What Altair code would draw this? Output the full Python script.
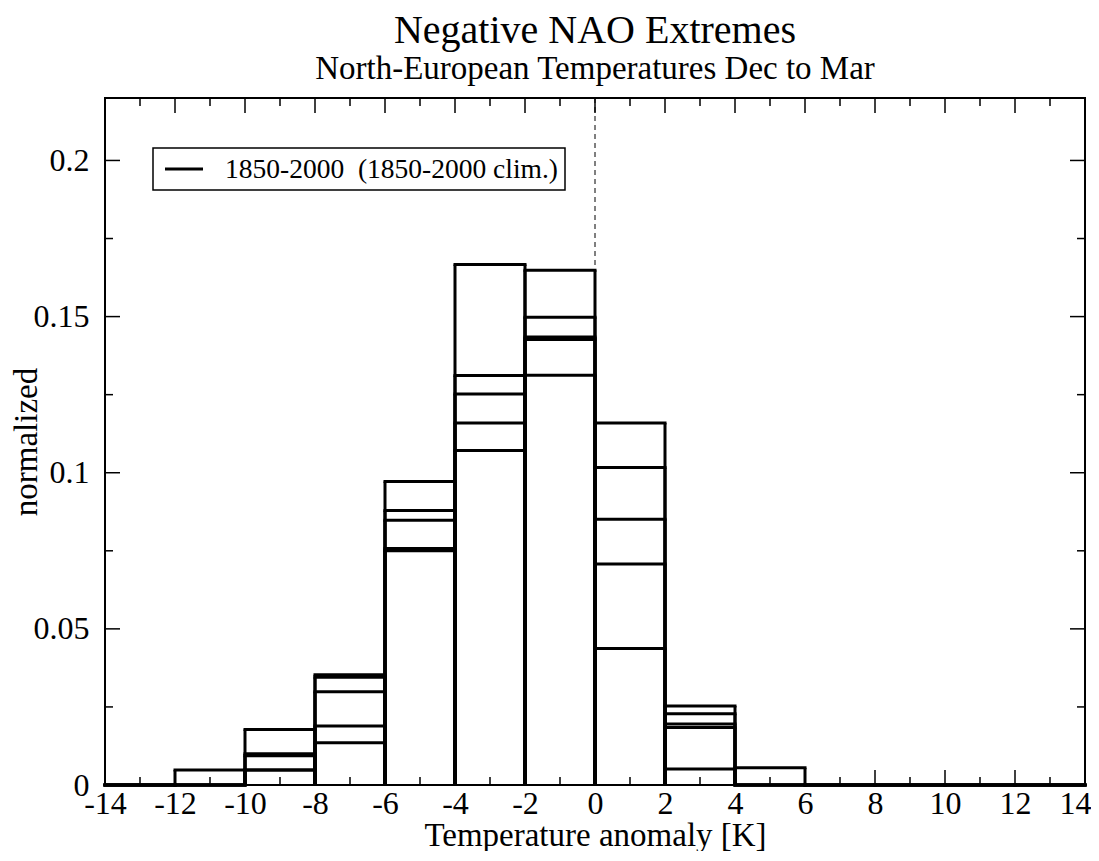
import altair as alt
import pandas as pd

# ---- data ----
bin_lo = [-14, -12, -10, -8, -6, -4, -2, 0, 2, 4, 6, 8, 10, 12]
bin_width = 2
series_a = [0, 0.0048, 0.0178, 0.0353, 0.0972, 0.1667, 0.1648, 0.1159, 0.0253, 0.0055, 0, 0, 0, 0]
series_b = [0, 0, 0.0100, 0.0345, 0.0879, 0.1311, 0.1498, 0.1017, 0.0228, 0, 0, 0, 0, 0]
series_c = [0, 0, 0.0094, 0.0299, 0.0848, 0.1252, 0.1435, 0.0851, 0.0195, 0, 0, 0, 0, 0]
series_d = [0, 0, 0.0048, 0.0189, 0.0757, 0.1159, 0.1427, 0.0708, 0.0184, 0, 0, 0, 0, 0]
series_e = [0, 0, 0.0048, 0.0135, 0.0750, 0.1071, 0.1312, 0.0437, 0.0051, 0, 0, 0, 0, 0]
series_names = ["s1", "s2", "s3", "s4", "s5"]
legend_label = ["1850-2000\u00a0 (1850-2000 clim.)"]

x_major = [-14, -12, -10, -8, -6, -4, -2, 0, 2, 4, 6, 8, 10, 12, 14]
x_minor = [-13, -11, -9, -7, -5, -3, -1, 1, 3, 5, 7, 9, 11, 13]
y_major = [0, 0.05, 0.1, 0.15, 0.2]
y_minor = [0.025, 0.075, 0.125, 0.175]
zero_line = [0]

title_text = "Negative NAO Extremes"
subtitle_text = "North-European Temperatures Dec to Mar"
x_title = "Temperature anomaly [K]"
y_title = "normalized"

# ---- tables ----
rows = []
for name, vals in zip(series_names, [series_a, series_b, series_c, series_d, series_e]):
    for lo, v in zip(bin_lo, vals):
        rows.append({"series": name, "lo": lo, "hi": lo + bin_width, "v": v})
hist = pd.DataFrame(rows)

W, H = 980, 687
FONT = "Liberation Serif"

xs = alt.Scale(domain=[-14, 14], nice=False, zero=False)
ys = alt.Scale(domain=[0, 0.22], nice=False, zero=True)

x_axis = alt.Axis(values=x_major, labelExpr="'' + datum.value", ticks=False, domain=False,
                  grid=False, labelFont=FONT, labelFontSize=32, labelColor="black",
                  labelPadding=3, title=x_title, titleFont=FONT, titleFontSize=33,
                  titleFontWeight="normal", titleColor="black",
                  titleX=W / 2, titleY=60, titleBaseline="alphabetic", titleAnchor="middle",
                  labelAlign={"condition": {"test": "datum.value == 14", "value": "right"}, "value": "center"},
                  labelOffset={"condition": {"test": "datum.value == 14", "value": 6}, "value": 0},
                  labelFlush=False, labelOverlap=False)
y_axis = alt.Axis(values=y_major, labelExpr="'' + datum.value", ticks=False, domain=False,
                  grid=False, labelFont=FONT, labelFontSize=32, labelColor="black",
                  labelPadding=16, title=y_title, titleFont=FONT, titleFontSize=33,
                  titleFontWeight="normal", titleColor="black",
                  titleX=-79, titleY=H / 2, titleBaseline="middle", titleAnchor="middle",
                  labelFlush=False, labelOverlap=False)

base = alt.Chart(hist)

dash = alt.Chart(pd.DataFrame({"z": zero_line})).mark_rule(
    color="black", strokeWidth=1, strokeDash=[5, 4]
).encode(x=alt.X("z:Q", scale=xs, axis=x_axis), y=alt.value(0), y2=alt.value(H))

tops = base.mark_rule(color="black", strokeWidth=3, strokeCap="square").encode(
    x=alt.X("lo:Q", scale=xs, axis=x_axis), x2="hi:Q",
    y=alt.Y("v:Q", scale=ys, axis=y_axis),
)
left_edges = base.mark_rule(color="black", strokeWidth=3).encode(
    x=alt.X("lo:Q", scale=xs, axis=x_axis),
    y=alt.Y("v:Q", scale=ys, axis=y_axis), y2=alt.datum(0),
)
right_edges = base.mark_rule(color="black", strokeWidth=3).encode(
    x=alt.X("hi:Q", scale=xs, axis=x_axis),
    y=alt.Y("v:Q", scale=ys, axis=y_axis), y2=alt.datum(0),
)

xmaj = pd.DataFrame({"t": x_major})
xmin = pd.DataFrame({"t": x_minor})
ymaj = pd.DataFrame({"t": y_major})
ymin = pd.DataFrame({"t": y_minor})

def xticks(df, length):
    b = alt.Chart(df).mark_rule(color="black", strokeWidth=1.5)
    bottom = b.encode(x=alt.X("t:Q", scale=xs, axis=x_axis), y=alt.value(H), y2=alt.value(H - length))
    top = b.encode(x=alt.X("t:Q", scale=xs, axis=x_axis), y=alt.value(0), y2=alt.value(length))
    return [bottom, top]

def yticks(df, length):
    b = alt.Chart(df).mark_rule(color="black", strokeWidth=1.5)
    left = b.encode(y=alt.Y("t:Q", scale=ys, axis=y_axis), x=alt.value(0), x2=alt.value(length))
    right = b.encode(y=alt.Y("t:Q", scale=ys, axis=y_axis), x=alt.value(W), x2=alt.value(W - length))
    return [left, right]

leg_df = pd.DataFrame({"label": legend_label})
frame = alt.Chart(leg_df).mark_rect(fill=None, fillOpacity=0, stroke="black", strokeWidth=2).encode(
    x=alt.value(0), x2=alt.value(W), y=alt.value(0), y2=alt.value(H)
)
leg_box = alt.Chart(leg_df).mark_rect(fill="white", stroke="black", strokeWidth=1.5).encode(
    x=alt.value(48), x2=alt.value(460), y=alt.value(50), y2=alt.value(92)
)
leg_line = alt.Chart(leg_df).mark_rule(color="black", strokeWidth=3).encode(
    x=alt.value(60), x2=alt.value(98), y=alt.value(71)
)
leg_text = alt.Chart(leg_df).mark_text(
    font=FONT, fontSize=27.5, align="left", baseline="middle", color="black"
).encode(x=alt.value(120), y=alt.value(72), text="label:N")

layers = [dash, tops, left_edges, right_edges]
layers += xticks(xmaj, 15) + xticks(xmin, 8) + yticks(ymaj, 15) + yticks(ymin, 8)
layers += [frame, leg_box, leg_line, leg_text]

chart = alt.layer(*layers).properties(
    width=W, height=H,
    title=alt.TitleParams(
        text=title_text, subtitle=subtitle_text, anchor="middle", frame="group",
        font=FONT, fontSize=40, fontWeight="normal", color="black",
        subtitleFont=FONT, subtitleFontSize=33, subtitleColor="black",
        subtitlePadding=2, offset=11,
    ),
    autosize=alt.AutoSizeParams(type="none"),
    padding={"left": 97, "top": 90, "right": 6, "bottom": 66},
).configure_view(stroke=None).configure(background="white")

chart.save("out.html", embed_options={"renderer": "svg", "actions": False})
